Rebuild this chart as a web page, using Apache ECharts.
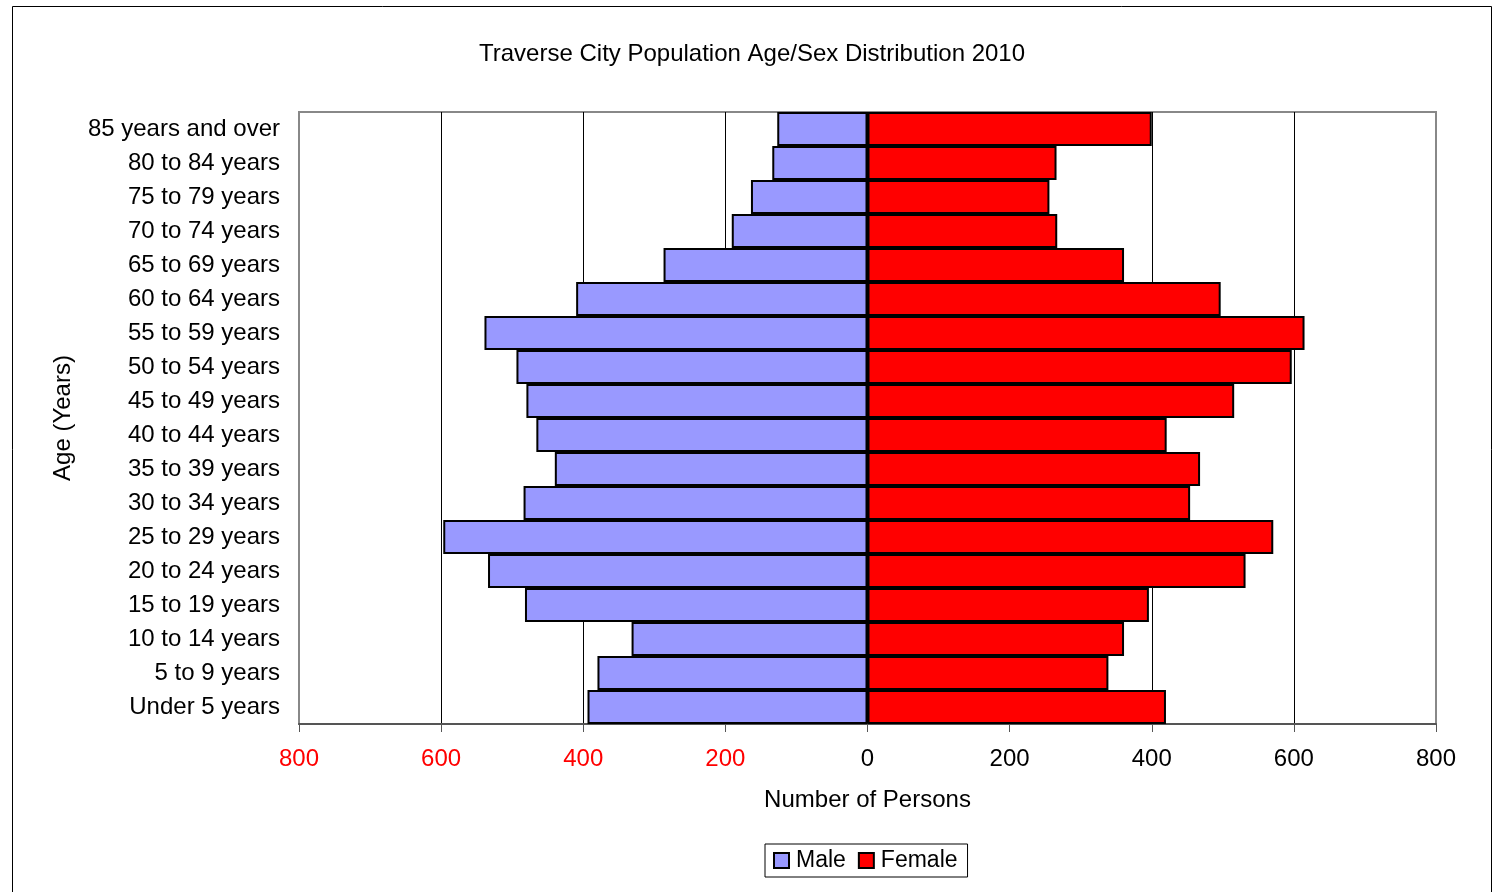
<!DOCTYPE html>
<html>
<head>
<meta charset="utf-8">
<title>Traverse City Population Age/Sex Distribution 2010</title>
<script src="https://cdn.jsdelivr.net/npm/echarts@6/dist/echarts.min.js"></script>
<style>
html,body{margin:0;padding:0;background:#fff;}
#chart{width:1495px;height:892px;}
</style>
</head>
<body>
<div id="chart"></div>
<script>
// age groups, bottom to top
var ageGroups = ['Under 5 years','5 to 9 years','10 to 14 years','15 to 19 years','20 to 24 years',
	'25 to 29 years','30 to 34 years','35 to 39 years','40 to 44 years','45 to 49 years',
	'50 to 54 years','55 to 59 years','60 to 64 years','65 to 69 years','70 to 74 years',
	'75 to 79 years','80 to 84 years','85 years and over'];
var male   = [394,380,332,482,534,597,484,440,466,480,494,539,410,287,191,164,134,127];
var female = [420,339,361,396,532,571,454,468,421,516,597,615,497,361,267,256,266,400];
var xTicks = {min:-800, max:800, step:200};

var font = "'Liberation Sans', Arial, sans-serif";
var chart = echarts.init(document.getElementById('chart'));

var option = {
	backgroundColor:'#fff',
	animation:false,
	textStyle:{fontFamily:font},
	title:{
		text:'Traverse City Population Age/Sex Distribution 2010',
		left:474,
		top:37,
		textStyle:{fontFamily:font,fontSize:24,fontWeight:'normal',color:'#000'}
	},
	graphic:[{
		type:'rect',
		shape:{x:12.5,y:6.5,width:1479,height:900},
		style:{fill:'none',stroke:'#000',lineWidth:1},
		silent:true
	}],
	legend:{
		data:['Male','Female'],
		bottom:15,
		left:765,
		orient:'horizontal',
		borderColor:'#000',
		borderWidth:1,
		padding:[5,10,5,8],
		itemWidth:15,
		itemHeight:15,
		itemGap:12,
		icon:'rect',
		textStyle:{fontFamily:font,fontSize:23,color:'#000',padding:[0,0,0,2]}
	},
	grid:{
		left:299,
		right:59,
		top:112,
		bottom:168,
		show:true,
		borderColor:'#888',
		borderWidth:2,
		containLabel:false
	},
	xAxis:{
		type:'value',
		min:xTicks.min,
		max:xTicks.max,
		interval:xTicks.step,
		name:'Number of Persons',
		nameLocation:'middle',
		nameGap:64,
		nameTextStyle:{fontFamily:font,fontSize:24,color:'#000'},
		axisLine:{show:true,onZero:false,lineStyle:{color:'#555',width:2}},
		axisTick:{show:true,length:8,lineStyle:{color:'#555',width:1}},
		axisLabel:{
			fontFamily:font,
			fontSize:24,
			margin:23,
			formatter:function(v){ return Math.abs(v); },
			color:function(v){ return v < 0 ? '#ff0000' : '#000'; }
		},
		splitLine:{show:true,showMinLine:false,showMaxLine:false,lineStyle:{color:'#000',width:1}}
	},
	yAxis:{
		type:'category',
		data:ageGroups,
		name:'Age (Years)',
		nameLocation:'middle',
		nameGap:224,
		nameTextStyle:{fontFamily:font,fontSize:24,color:'#000'},
		axisLine:{show:false},
		axisTick:{show:false},
		axisLabel:{fontFamily:font,fontSize:24,color:'#000',margin:19},
		splitLine:{show:false}
	},
	series:[{
		name:'Male',
		type:'bar',
		data:male.map(function(v){ return -v; }),
		barWidth:'100%',
		barGap:'-100%',
		barCategoryGap:0,
		itemStyle:{color:'#9999ff',borderColor:'#000',borderWidth:2}
	},{
		name:'Female',
		type:'bar',
		data:female,
		barWidth:'100%',
		barGap:'-100%',
		barCategoryGap:0,
		itemStyle:{color:'#ff0000',borderColor:'#000',borderWidth:2}
	}]
};
chart.setOption(option);
</script>
</body>
</html>
